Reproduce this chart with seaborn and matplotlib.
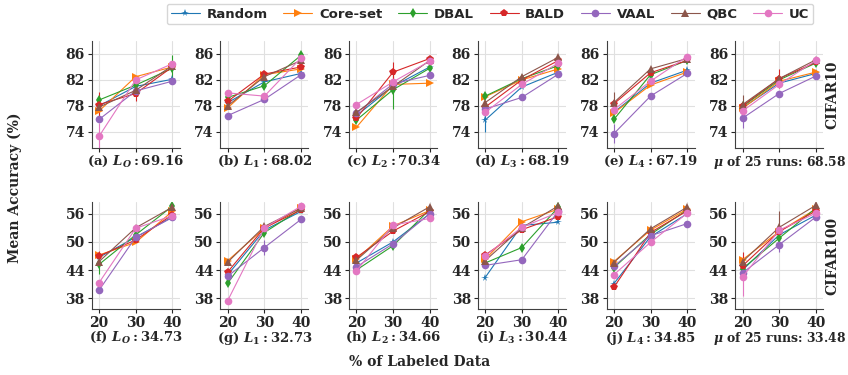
import numpy as np
import pandas as pd
import matplotlib
matplotlib.use("Agg")
import matplotlib.pyplot as plt
import seaborn as sns

# --- data ---
methods = ["Random", "Core-set", "DBAL", "BALD", "VAAL", "QBC", "UC"]
x_pct = [20, 30, 40]

# CIFAR10 (one row per method, values at 20/30/40 %)
c10_L0 = [[78.0, 81.0, 82.1], [77.2, 82.5, 84.0], [78.9, 81.2, 83.8], [78.2, 79.9, 84.0],
          [75.9, 80.3, 81.8], [77.8, 80.4, 84.2], [73.3, 82.0, 84.5]]
c10_L1 = [[78.5, 81.7, 83.0], [77.7, 82.8, 83.7], [79.3, 81.1, 85.8], [78.7, 82.9, 84.0],
          [76.5, 79.0, 82.8], [78.0, 82.5, 85.0], [80.0, 79.5, 85.4]]
c10_L2 = [[76.5, 81.0, 84.0], [74.7, 81.3, 81.5], [75.8, 80.5, 83.8], [76.1, 83.2, 85.3],
          [76.9, 81.4, 82.7], [77.0, 81.0, 85.0], [78.2, 81.7, 84.9]]
c10_L3 = [[75.8, 80.9, 83.2], [79.4, 82.0, 83.7], [79.5, 82.2, 84.2], [77.8, 82.0, 85.0],
          [77.5, 79.3, 82.9], [78.5, 82.5, 85.5], [77.0, 81.3, 84.6]]
c10_L4 = [[77.0, 81.5, 83.5], [76.9, 81.2, 83.2], [75.9, 82.8, 85.0], [78.3, 83.1, 85.0],
          [73.7, 79.5, 83.0], [78.5, 83.7, 85.3], [77.4, 81.8, 85.6]]
c10_mu = [[77.7, 81.5, 83.0], [77.6, 81.8, 83.2], [77.9, 82.0, 84.6], [78.0, 82.2, 84.7],
          [76.1, 79.9, 82.6], [78.2, 82.2, 85.1], [77.2, 81.3, 85.0]]

# CIFAR100
c100_L0 = [[46.7, 51.0, 55.3], [47.2, 49.9, 56.5], [45.2, 51.5, 57.6], [47.0, 50.4, 55.8],
           [39.7, 51.0, 55.2], [45.8, 53.0, 57.4], [41.3, 52.9, 55.6]]
c100_L1 = [[43.0, 52.5, 56.5], [46.0, 52.9, 57.3], [41.2, 52.0, 57.0], [43.6, 53.0, 56.8],
           [42.7, 48.8, 54.8], [45.7, 53.3, 57.2], [37.5, 53.0, 57.6]]
c100_L2 = [[45.5, 50.0, 56.0], [46.3, 53.4, 56.7], [44.0, 49.2, 56.9], [46.7, 52.3, 56.5],
           [44.7, 49.6, 56.0], [46.1, 53.0, 57.5], [43.8, 53.6, 55.0]]
c100_L3 = [[42.4, 53.5, 54.2], [46.3, 54.3, 57.0], [45.5, 48.8, 57.4], [47.2, 52.6, 55.4],
           [45.0, 46.2, 56.6], [46.0, 53.0, 57.7], [47.0, 53.1, 56.3]]
c100_L4 = [[41.1, 51.1, 56.0], [45.8, 52.5, 57.0], [44.5, 51.6, 56.8], [40.3, 52.0, 56.6],
           [44.8, 51.3, 53.9], [45.6, 52.8, 57.4], [43.0, 49.9, 56.1]]
c100_mu = [[44.0, 51.5, 55.7], [46.2, 52.2, 57.0], [44.3, 50.8, 57.2], [44.9, 52.2, 56.6],
           [43.4, 49.4, 55.3], [45.8, 53.1, 57.8], [42.5, 52.5, 56.1]]

# visible error bars: (panel index, method, x index, half-length)
err_bars = [(0, "BALD", 0, 2.0), (0, "UC", 0, 2.0), (0, "BALD", 1, 1.2), (0, "DBAL", 2, 2.0),
            (2, "DBAL", 1, 3.0), (2, "BALD", 1, 1.5), (3, "Random", 0, 1.8),
            (4, "QBC", 0, 1.6), (4, "VAAL", 0, 1.5), (5, "VAAL", 0, 1.5),
            (5, "QBC", 0, 1.5), (5, "BALD", 1, 1.5),
            (6, "DBAL", 0, 2.0), (6, "BALD", 0, 1.0), (7, "VAAL", 1, 1.5),
            (11, "UC", 0, 4.0), (11, "BALD", 0, 3.0), (11, "QBC", 1, 3.5), (11, "VAAL", 1, 1.5)]

panels = [c10_L0, c10_L1, c10_L2, c10_L3, c10_L4, c10_mu,
          c100_L0, c100_L1, c100_L2, c100_L3, c100_L4, c100_mu]
captions = [r"(a) $\boldsymbol{L_O:}$69.16", r"(b) $\boldsymbol{L_1:}$68.02",
            r"(c) $\boldsymbol{L_2:}$70.34", r"(d) $\boldsymbol{L_3:}$68.19",
            r"(e) $\boldsymbol{L_4:}$67.19", r"$\boldsymbol{\mu}$ of 25 runs: 68.58",
            r"(f) $\boldsymbol{L_O:}$34.73", r"(g) $\boldsymbol{L_1:}$32.73",
            r"(h) $\boldsymbol{L_2:}$34.66", r"(i) $\boldsymbol{L_3:}$30.44",
            r"(j) $\boldsymbol{L_4:}$34.85", r"$\boldsymbol{\mu}$ of 25 runs: 33.48"]

markers = {"Random": "*", "Core-set": ">", "DBAL": "d", "BALD": "p",
           "VAAL": "o", "QBC": "^", "UC": "o"}
palette = dict(zip(methods, sns.color_palette("tab10", 7)))

sns.set_style("whitegrid", {"axes.edgecolor": ".25", "grid.color": ".88"})
plt.rcParams["font.family"] = ["DejaVu Serif"]
plt.rcParams["font.weight"] = "bold"
plt.rcParams["mathtext.fontset"] = "dejavuserif"
plt.rcParams["ytick.left"] = True
plt.rcParams["xtick.bottom"] = True

fig = plt.figure(figsize=(8.48, 3.75), dpi=100)
W, H = 848, 375
ax_lefts = [91.7 + 128.7 * i for i in range(6)]
row_tops = [41, 202]
axes = []
for r in range(2):
    for c in range(6):
        ax = fig.add_axes([ax_lefts[c] / W, 1 - (row_tops[r] + 107) / H, 88 / W, 107 / H])
        axes.append(ax)

for k, (ax, vals) in enumerate(zip(axes, panels)):
    df = pd.DataFrame([(m, x, vals[i][j]) for i, m in enumerate(methods)
                       for j, x in enumerate(x_pct)], columns=["method", "pct", "acc"])
    sns.lineplot(data=df, x="pct", y="acc", hue="method", style="method",
                 hue_order=methods, style_order=methods, palette=palette,
                 markers=markers, dashes=False, lw=0.8, markersize=5.5,
                 markeredgewidth=0, ax=ax, legend=(k == 0))
    for (p, m, xi, e) in err_bars:
        if p == k:
            i = methods.index(m)
            ax.errorbar(x_pct[xi], vals[i][xi], yerr=e, color=palette[m], lw=0.8,
                        capsize=0, zorder=1)
    ax.set_xlim(18, 42)
    ax.set_xticks(x_pct)
    ax.set_ylabel("")
    fs = 8.9 if k in (5, 11) else 9.5
    if k < 6:
        ax.set_ylim(71.5, 88)
        ax.set_yticks([74, 78, 82, 86])
        ax.set_xticklabels([])
        ax.set_xlabel(captions[k], fontsize=fs, fontweight="bold", labelpad=-1)
    else:
        ax.set_ylim(35.7, 58.5)
        ax.set_yticks([38, 44, 50, 56])
        ax.set_xlabel(captions[k], fontsize=fs, fontweight="bold", labelpad=0)
    ax.tick_params(labelsize=10, length=3, width=0.8, pad=2)
    sns.despine(ax=ax)

handles, labels = axes[0].get_legend_handles_labels()
axes[0].get_legend().remove()
fig.legend(handles, labels, loc="center", bbox_to_anchor=(490 / W, 1 - 14 / H), ncol=7,
           prop={"family": "DejaVu Sans", "size": 9.5}, frameon=True,
           handlelength=2.2, columnspacing=1.2, handletextpad=0.5, borderpad=0.3)

fig.text(15 / W, 0.5, "Mean Accuracy (%)", rotation=90, ha="center", va="center",
         fontsize=10, fontweight="bold")
fig.text(420 / W, 1 - 362 / H, "% of Labeled Data", ha="center", va="center",
         fontsize=10, fontweight="bold")
fig.text(832 / W, 1 - 94.5 / H, "CIFAR10", rotation=90, ha="center", va="center",
         fontsize=10, fontweight="bold")
fig.text(832 / W, 1 - 255.5 / H, "CIFAR100", rotation=90, ha="center", va="center",
         fontsize=10, fontweight="bold")

fig.savefig("out.png", dpi=100)
